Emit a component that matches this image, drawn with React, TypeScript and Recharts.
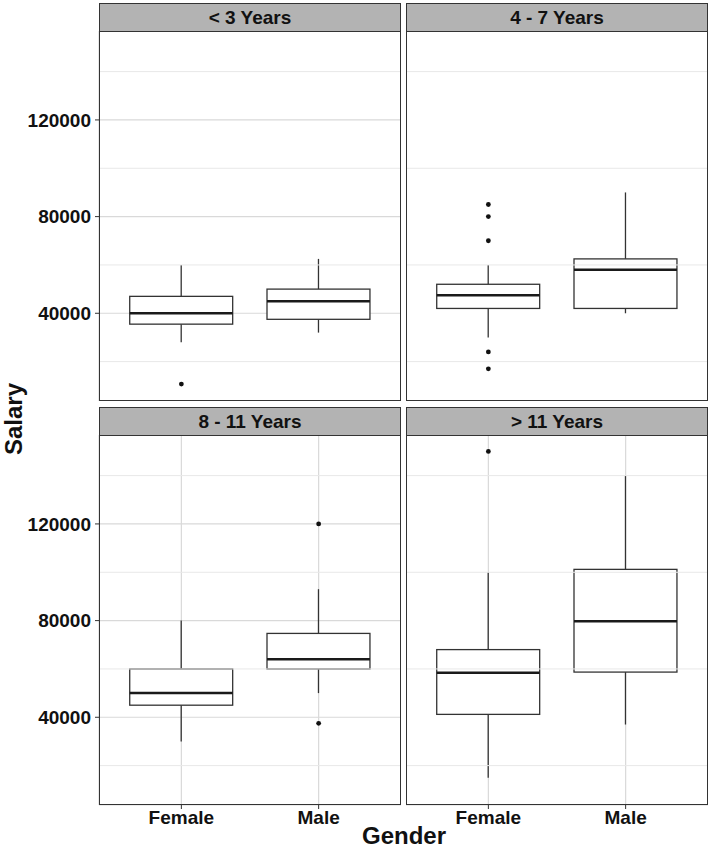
import React from "react";
import {
  ComposedChart, Bar, Scatter, XAxis, YAxis, CartesianGrid, ReferenceLine,
} from "recharts";

const FONT = '"Liberation Sans", Arial, Helvetica, sans-serif';
const INK = "#111111";
const LINE = "#333333";

const GENDERS = ["Female", "Male"];
const PANEL_TITLES = ["< 3 Years", "4 - 7 Years", "8 - 11 Years", "> 11 Years"];

// [min, q1, median, q3, max] for Female, Male
const STATS_LT3 = [[28000, 35500, 40000, 47000, 60000], [32000, 37500, 45000, 50000, 62500]];
const STATS_4_7 = [[30000, 42000, 47500, 52000, 60000], [40000, 42000, 58000, 62500, 90000]];
const STATS_8_11 = [[30000, 45000, 50000, 60000, 80000], [50000, 60000, 64000, 74700, 93000]];
const STATS_GT11 = [[15000, 41200, 58400, 68000, 100000], [37000, 58700, 79700, 101200, 140000]];

const OUT_LT3 = [{ gender: "Female", salary: 10700 }];
const OUT_4_7 = [
  { gender: "Female", salary: 85000 },
  { gender: "Female", salary: 80000 },
  { gender: "Female", salary: 70000 },
  { gender: "Female", salary: 24000 },
  { gender: "Female", salary: 17000 },
];
const OUT_8_11 = [
  { gender: "Male", salary: 120000 },
  { gender: "Male", salary: 37500 },
];
const OUT_GT11 = [{ gender: "Female", salary: 150000 }];

const Y_DOMAIN = [3700, 156800];
const Y_TICKS = [40000, 80000, 120000];
const Y_MINOR = [20000, 60000, 100000, 140000];

const PW = 302; // panel width
const PH = 370; // panel height
const STRIP_H = 29;

function toRows(stats: number[][]) {
  return GENDERS.map((g, i) => ({
    gender: g,
    box: [stats[i][1], stats[i][3]],
    lo: stats[i][0],
    med: stats[i][2],
    hi: stats[i][4],
  }));
}

function BoxShape(props: any) {
  const { x, y, width, height, payload } = props;
  const [q1, q3] = payload.box;
  const top = Math.min(y, y + height);
  const bot = Math.max(y, y + height);
  const py = (v: number) => bot - ((v - q1) / (q3 - q1)) * (bot - top);
  const cx = x + width / 2;
  return (
    <g>
      <line x1={cx} x2={cx} y1={py(payload.hi)} y2={top} stroke={LINE} strokeWidth={1.3} />
      <line x1={cx} x2={cx} y1={bot} y2={py(payload.lo)} stroke={LINE} strokeWidth={1.3} />
      <rect x={x} y={top} width={width} height={bot - top} fill="#fff" stroke={LINE} strokeWidth={1.3} />
      <line x1={x} x2={x + width} y1={py(payload.med)} y2={py(payload.med)} stroke="#1a1a1a" strokeWidth={2.5} />
    </g>
  );
}

function Dot(props: any) {
  return <circle cx={props.cx} cy={props.cy} r={2.4} fill="#111" />;
}

interface PanelProps {
  title: string;
  stats: number[][];
  outliers: { gender: string; salary: number }[];
  px: number;
  py: number;
  showY: boolean;
  showX: boolean;
}

function Panel({ title, stats, outliers, px, py, showY, showX }: PanelProps) {
  const yW = showY ? px : 0;
  const xH = showX ? 30 : 0;
  const pad = PW / 22;
  const tickStyle = { fontSize: 19, fontWeight: 700, fill: INK, fontFamily: FONT };
  return (
    <>
      <div
        style={{
          position: "absolute", left: px, top: py - STRIP_H + 1, width: PW, height: STRIP_H,
          boxSizing: "border-box", background: "#b3b3b3", border: `1px solid ${LINE}`,
          display: "flex", alignItems: "center", justifyContent: "center",
          fontFamily: FONT, fontWeight: 700, fontSize: 19, color: INK,
        }}
      >
        {title}
      </div>
      <div style={{ position: "absolute", left: px - yW, top: py }}>
        <ComposedChart
          width={PW + yW}
          height={PH + xH}
          data={toRows(stats)}
          margin={{ top: 0, right: 0, bottom: 0, left: 0 }}
        >
          <CartesianGrid stroke="#d9d9d9" strokeWidth={1.2} />
          {Y_MINOR.map((v) => (
            <ReferenceLine key={v} y={v} stroke="#e8e8e8" strokeWidth={1} />
          ))}
          <XAxis
            dataKey="gender"
            type="category"
            allowDuplicatedCategory={false}
            padding={{ left: pad, right: pad }}
            height={xH}
            axisLine={false}
            tick={showX ? tickStyle : false}
            tickLine={showX ? { stroke: LINE } : false}
            tickSize={4}
            tickMargin={2}
          />
          <YAxis
            type="number"
            domain={Y_DOMAIN}
            ticks={Y_TICKS}
            allowDataOverflow
            width={yW}
            axisLine={false}
            tick={showY ? tickStyle : false}
            tickLine={showY ? { stroke: LINE } : false}
            tickSize={4}
            tickMargin={4}
          />
          <Bar dataKey="box" barSize={(PW * 0.75) / 2.2} shape={<BoxShape />} isAnimationActive={false} />
          <Scatter data={outliers} dataKey="salary" shape={<Dot />} isAnimationActive={false} />
        </ComposedChart>
      </div>
      <div
        style={{
          position: "absolute", left: px, top: py, width: PW, height: PH,
          boxSizing: "border-box", border: `1px solid ${LINE}`, pointerEvents: "none",
        }}
      />
    </>
  );
}

export default function App() {
  return (
    <div style={{ position: "absolute", left: 0, top: 0, width: 712, height: 850, background: "#fff", overflow: "hidden" }}>
      <Panel title={PANEL_TITLES[0]} stats={STATS_LT3} outliers={OUT_LT3} px={99} py={31} showY showX={false} />
      <Panel title={PANEL_TITLES[1]} stats={STATS_4_7} outliers={OUT_4_7} px={406} py={31} showY={false} showX={false} />
      <Panel title={PANEL_TITLES[2]} stats={STATS_8_11} outliers={OUT_8_11} px={99} py={435} showY showX />
      <Panel title={PANEL_TITLES[3]} stats={STATS_GT11} outliers={OUT_GT11} px={406} py={435} showY={false} showX />
      <div
        style={{
          position: "absolute", left: 14, top: 419, transform: "translate(-50%, -50%) rotate(-90deg)",
          fontFamily: FONT, fontWeight: 700, fontSize: 24, color: INK, whiteSpace: "nowrap",
        }}
      >
        Salary
      </div>
      <div
        style={{
          position: "absolute", left: 404, top: 822, transform: "translateX(-50%)",
          fontFamily: FONT, fontWeight: 700, fontSize: 24, color: INK, whiteSpace: "nowrap",
        }}
      >
        Gender
      </div>
    </div>
  );
}
